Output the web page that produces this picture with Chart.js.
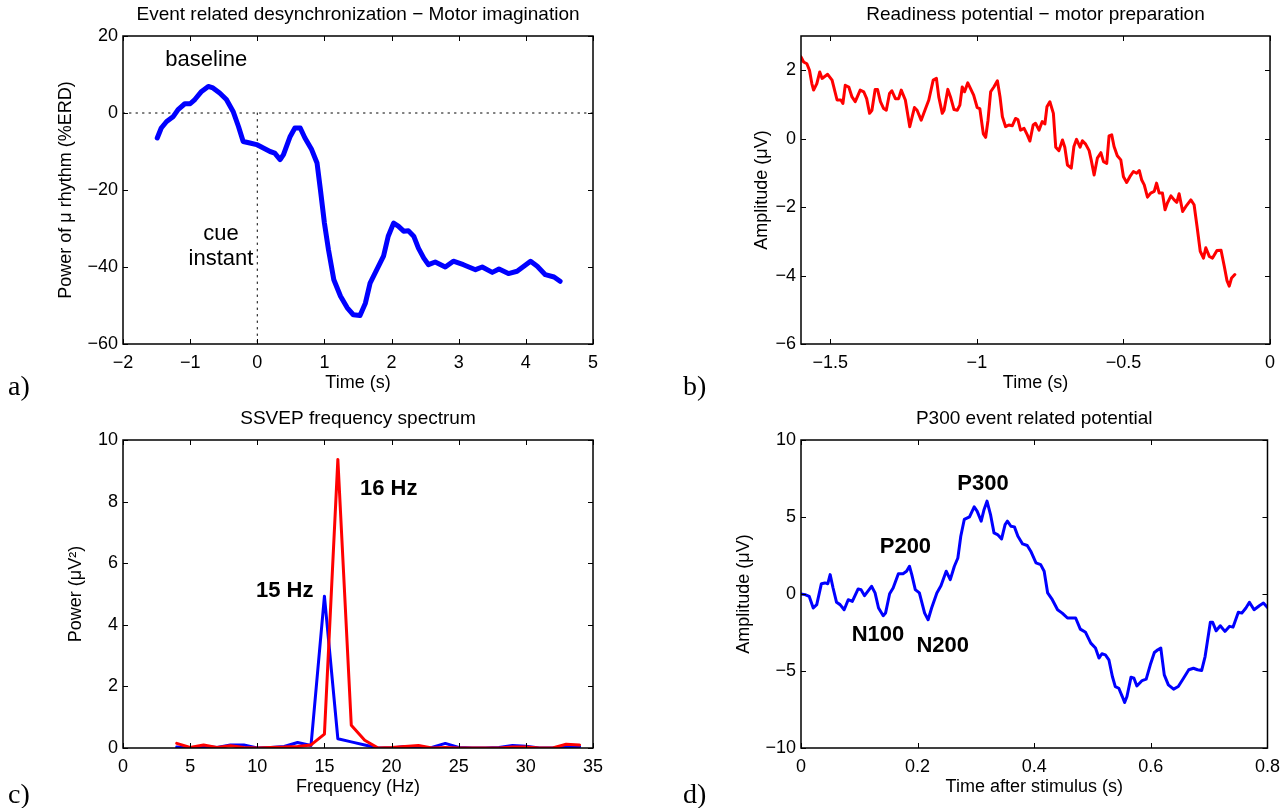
<!DOCTYPE html>
<html>
<head>
<meta charset="utf-8">
<title>BCI signal examples</title>
<script src="https://cdn.jsdelivr.net/npm/chart.js@4.4.1/dist/chart.umd.min.js"></script>
<style>
  html, body { margin: 0; padding: 0; background: #fff; }
  #wrap { position: relative; width: 1288px; height: 808px; overflow: hidden; }
  #wrap canvas { position: absolute; }
</style>
</head>
<body>
<div id="wrap">
  <canvas id="erd" width="644" height="404" style="left:0;top:0"></canvas>
  <canvas id="rp" width="644" height="404" style="left:644px;top:0"></canvas>
  <canvas id="ssvep" width="644" height="404" style="left:0;top:404px"></canvas>
  <canvas id="p300" width="644" height="404" style="left:644px;top:404px"></canvas>
</div>
<script>
// ---- a) ERD, mu rhythm power (%ERD) vs time (s)
const erdTime = [-1.49,-1.43,-1.35,-1.25,-1.18,-1.08,-1.00,-0.93,-0.83,-0.73,-0.66,-0.56,-0.46,-0.36,-0.28,-0.21,-0.11,-0.01,0.09,0.19,0.26,0.34,0.39,0.49,0.56,0.64,0.71,0.81,0.89,0.94,1.00,1.06,1.14,1.24,1.34,1.43,1.53,1.61,1.68,1.78,1.88,1.95,2.03,2.10,2.18,2.25,2.33,2.40,2.48,2.55,2.65,2.80,2.92,3.07,3.25,3.35,3.50,3.60,3.74,3.87,3.97,4.07,4.17,4.29,4.42,4.51];
const erdPower = [-6.5,-3.9,-2.2,-0.9,0.9,2.4,2.4,3.5,5.6,6.9,6.5,5.2,3.5,0.4,-3.5,-7.4,-7.8,-8.2,-9.1,-10.0,-10.4,-12.1,-10.8,-6.1,-3.9,-3.9,-6.5,-9.5,-13.0,-19.9,-28.6,-35.5,-43.3,-47.6,-50.6,-52.4,-52.6,-49.4,-44.2,-40.7,-37.2,-32.0,-28.6,-29.4,-30.7,-30.6,-32.0,-35.1,-37.7,-39.4,-38.7,-40.0,-38.5,-39.4,-40.7,-40.0,-41.4,-40.5,-41.7,-41.1,-39.8,-38.5,-39.8,-42.0,-42.6,-43.7];
const erdXTicks = [-2, -1, 0, 1, 2, 3, 4, 5];
const erdYTicks = [-60, -40, -20, 0, 20];

// ---- b) readiness potential (uV) vs time (s)
const rpTime = [-1.600,-1.591,-1.580,-1.571,-1.563,-1.557,-1.546,-1.536,-1.528,-1.509,-1.494,-1.477,-1.464,-1.457,-1.449,-1.437,-1.426,-1.415,-1.398,-1.386,-1.376,-1.366,-1.358,-1.347,-1.339,-1.329,-1.318,-1.309,-1.298,-1.290,-1.278,-1.267,-1.258,-1.244,-1.229,-1.213,-1.204,-1.190,-1.175,-1.164,-1.149,-1.138,-1.130,-1.118,-1.112,-1.099,-1.090,-1.078,-1.067,-1.058,-1.050,-1.042,-1.031,-1.022,-1.011,-0.999,-0.990,-0.978,-0.970,-0.962,-0.953,-0.942,-0.930,-0.921,-0.913,-0.902,-0.891,-0.879,-0.868,-0.860,-0.851,-0.839,-0.828,-0.819,-0.808,-0.800,-0.788,-0.777,-0.768,-0.761,-0.751,-0.739,-0.731,-0.720,-0.708,-0.700,-0.691,-0.678,-0.669,-0.660,-0.648,-0.640,-0.629,-0.617,-0.610,-0.600,-0.589,-0.577,-0.568,-0.557,-0.549,-0.540,-0.532,-0.521,-0.509,-0.500,-0.489,-0.478,-0.466,-0.455,-0.446,-0.438,-0.429,-0.418,-0.407,-0.395,-0.387,-0.378,-0.367,-0.358,-0.350,-0.338,-0.327,-0.318,-0.310,-0.298,-0.287,-0.270,-0.259,-0.249,-0.238,-0.227,-0.219,-0.207,-0.196,-0.181,-0.167,-0.156,-0.147,-0.139,-0.131,-0.120];
const rpAmp = [2.39,2.24,2.19,2.0,1.61,1.42,1.61,1.95,1.76,1.88,1.71,1.13,1.13,1.03,1.56,1.51,1.22,1.08,1.42,1.37,1.17,0.74,0.83,1.44,1.44,1.08,0.88,0.83,1.32,1.40,1.17,1.17,1.42,1.13,0.35,0.91,0.83,0.54,0.88,1.13,1.71,1.76,1.22,0.74,0.83,1.44,1.22,0.85,0.83,0.98,1.51,1.37,1.63,1.47,1.27,0.91,0.88,0.14,0.04,0.54,1.37,1.51,1.69,1.22,0.64,0.35,0.40,0.38,0.59,0.56,0.25,0.30,0.11,-0.07,0.40,0.45,0.25,0.50,0.43,0.93,1.08,0.74,-0.25,-0.35,-0.04,-0.25,-0.77,-0.86,-0.23,-0.02,-0.25,-0.06,-0.16,-0.35,-0.62,-1.06,-0.57,-0.41,-0.67,-0.72,0.08,0.11,-0.23,-0.50,-0.62,-1.11,-1.28,-1.11,-0.96,-1.01,-0.93,-1.20,-1.35,-1.71,-1.59,-1.54,-1.30,-1.59,-1.59,-2.08,-1.88,-1.67,-1.79,-1.86,-1.61,-2.13,-1.98,-1.79,-1.93,-2.56,-3.29,-3.49,-3.19,-3.44,-3.49,-3.27,-3.26,-3.73,-4.14,-4.31,-4.07,-3.97];
const rpXTicks = [-1.5, -1, -0.5, 0];
const rpYTicks = [-6, -4, -2, 0, 2];

// ---- c) SSVEP spectrum, power (uV^2) per frequency bin (Hz)
const ssvepFreq = [4,5,6,7,8,9,10,11,12,13,14,15,16,17,18,19,20,21,22,23,24,25,26,27,28,29,30,31,32,33,34];
const ssvep15Hz = [0.03,0.0,0.05,0.02,0.1,0.1,0.0,0.02,0.05,0.18,0.08,4.93,0.3,0.2,0.1,0.0,0.0,0.05,0.0,0.02,0.15,0.02,0.0,0.0,0.02,0.08,0.06,0.0,0.0,0.05,0.05];
const ssvep16Hz = [0.15,0.02,0.1,0.02,0.07,0.02,0.0,0.02,0.03,0.05,0.1,0.45,9.37,0.74,0.25,0.0,0.02,0.05,0.08,0.0,0.02,0.0,0.0,0.0,0.0,0.03,0.03,0.0,0.0,0.12,0.1];
const ssvepXTicks = [0, 5, 10, 15, 20, 25, 30, 35];
const ssvepYTicks = [0, 2, 4, 6, 8, 10];

// ---- d) P300 ERP, amplitude (uV) vs time after stimulus (s)
const p300Time = [0,0.007,0.014,0.021,0.027,0.035,0.041,0.046,0.050,0.055,0.061,0.067,0.074,0.081,0.088,0.098,0.103,0.109,0.121,0.127,0.133,0.141,0.145,0.152,0.158,0.167,0.175,0.181,0.186,0.190,0.196,0.203,0.212,0.218,0.224,0.233,0.240,0.249,0.256,0.263,0.269,0.274,0.280,0.289,0.297,0.302,0.309,0.314,0.319,0.325,0.331,0.337,0.344,0.350,0.354,0.360,0.366,0.372,0.380,0.388,0.394,0.403,0.411,0.417,0.423,0.431,0.440,0.448,0.457,0.465,0.471,0.479,0.488,0.497,0.505,0.511,0.516,0.522,0.528,0.534,0.539,0.545,0.551,0.555,0.559,0.566,0.571,0.576,0.585,0.592,0.599,0.606,0.612,0.617,0.623,0.630,0.639,0.647,0.656,0.665,0.673,0.680,0.687,0.693,0.702,0.706,0.712,0.719,0.727,0.735,0.741,0.750,0.756,0.763,0.769,0.777,0.786,0.793,0.800];
const p300Amp = [0,-0.04,-0.15,-0.91,-0.69,0.67,0.72,0.67,1.26,0.39,-0.54,-0.69,-1.02,-0.37,-0.48,0.33,0.28,-0.11,0.50,0.07,-0.91,-1.41,-1.24,0.02,0.39,1.32,1.32,1.48,1.80,1.26,0.28,0.07,-1.24,-1.67,-0.91,0.07,0.54,1.48,0.93,1.80,2.34,3.75,4.84,5.01,5.66,5.38,4.73,5.49,6.03,5.16,3.97,3.86,3.58,4.51,4.73,4.40,4.36,3.75,3.25,3.15,2.78,2.02,1.91,1.48,0.07,-0.37,-1.02,-1.24,-1.56,-1.56,-1.56,-2.28,-2.49,-3.19,-3.51,-4.16,-3.88,-3.95,-4.27,-5.36,-6.01,-6.12,-6.66,-7.05,-6.66,-5.40,-5.47,-5.97,-5.62,-5.53,-4.60,-3.80,-3.62,-3.51,-5.25,-5.90,-6.18,-6.01,-5.47,-4.92,-4.82,-4.92,-4.97,-4.06,-1.84,-1.84,-2.39,-2.06,-2.43,-2.10,-2.15,-1.19,-1.24,-0.91,-0.54,-1.02,-0.76,-0.59,-0.87];
const p300XTicks = [0, 0.2, 0.4, 0.6, 0.8];
const p300YTicks = [-10, -5, 0, 5, 10];

Chart.defaults.font.family = "'Liberation Sans', Arial, Helvetica, sans-serif";
Chart.defaults.color = '#000';

const SANS = "'Liberation Sans', Arial, sans-serif";
const zip = (xs, ys) => xs.map((x, i) => ({ x, y: ys[i] }));
const minus = v => String(v).replace('-', '\u2212');

// MATLAB-like box: frame, inward ticks on all sides, title, panel letter, text notes
const matlabBox = {
  id: 'matlabBox',
  afterDraw(chart, _args, o) {
    const { ctx, chartArea: a, scales: { x, y } } = chart;
    ctx.save();
    ctx.strokeStyle = '#000';
    ctx.lineWidth = 1;
    ctx.beginPath();
    x.ticks.forEach(t => {
      const px = Math.round(x.getPixelForValue(t.value)) + 0.5;
      ctx.moveTo(px, a.bottom); ctx.lineTo(px, a.bottom - 5);
      ctx.moveTo(px, a.top); ctx.lineTo(px, a.top + 5);
    });
    y.ticks.forEach(t => {
      const py = Math.round(y.getPixelForValue(t.value)) + 0.5;
      ctx.moveTo(a.left, py); ctx.lineTo(a.left + 5, py);
      ctx.moveTo(a.right, py); ctx.lineTo(a.right - 5, py);
    });
    ctx.stroke();
    ctx.lineWidth = 1.5;
    ctx.strokeRect(a.left, a.top, a.right - a.left, a.bottom - a.top);

    ctx.fillStyle = '#000';
    ctx.font = '19px ' + SANS;
    ctx.textAlign = 'center';
    ctx.textBaseline = 'middle';
    ctx.fillText(o.title, (a.left + a.right) / 2, 15);

    ctx.font = "28px 'Liberation Serif', 'Times New Roman', serif";
    ctx.textAlign = 'left';
    ctx.textBaseline = 'alphabetic';
    ctx.fillText(o.letter, o.letterX, o.letterY);

    (o.notes || []).forEach(n => {
      ctx.font = (n.bold ? 'bold ' : '') + '22px ' + SANS;
      ctx.textAlign = n.align || 'left';
      ctx.fillText(n.text, x.getPixelForValue(n.x), y.getPixelForValue(n.y));
    });
    ctx.restore();
  }
};

function axis(min, max, tickValues, label, opts) {
  const horizontal = opts.horizontal;
  return {
    type: 'linear',
    min, max,
    grid: { display: false, drawTicks: false },
    border: { display: false },
    afterBuildTicks: s => { s.ticks = tickValues.map(v => ({ value: v })); },
    afterFit: s => { if (horizontal) s.height = 60; else s.width = opts.size; },
    ticks: {
      color: '#000', font: { size: 18 }, padding: horizontal ? 8 : 5,
      maxRotation: 0, autoSkip: false, callback: minus
    },
    title: {
      display: true, text: label, color: '#000', font: { size: 18 },
      padding: horizontal ? { top: 0, bottom: 10 } : { top: opts.titlePad, bottom: 0 }
    }
  };
}

function panel(id, datasets, scales, rightPad, box) {
  return new Chart(document.getElementById(id), {
    type: 'line',
    data: { datasets },
    options: {
      responsive: false,
      animation: false,
      devicePixelRatio: 1,
      layout: { padding: { top: 36, right: rightPad, bottom: 0, left: 0 }, autoPadding: false },
      elements: { point: { radius: 0 }, line: { tension: 0, borderJoinStyle: 'round', borderCapStyle: 'round' } },
      plugins: { legend: { display: false }, tooltip: { enabled: false }, matlabBox: box },
      scales
    },
    plugins: [matlabBox]
  });
}

// a)
panel('erd', [
  { data: zip(erdTime, erdPower), borderColor: '#0000ff', borderWidth: 5 },
  { data: [{ x: -2, y: 0 }, { x: 5, y: 0 }], borderColor: '#000', borderWidth: 1, borderDash: [1.5, 5] },
  { data: [{ x: 0, y: 0 }, { x: 0, y: -60 }], borderColor: '#000', borderWidth: 1, borderDash: [1.5, 5] }
], {
  x: axis(-2, 5, erdXTicks, 'Time (s)', { horizontal: true }),
  y: axis(-60, 20, erdYTicks, 'Power of \u03bc rhythm (%ERD)', { size: 123, titlePad: 55 })
}, 51, {
  title: 'Event related desynchronization \u2212 Motor imagination',
  letter: 'a)', letterX: 8, letterY: 395,
  notes: [
    { text: 'baseline', x: -1.37, y: 12.2 },
    { text: 'cue', x: -0.54, y: -33.0, align: 'center' },
    { text: 'instant', x: -0.54, y: -39.5, align: 'center' }
  ]
});

// b)
panel('rp', [
  { data: zip(rpTime, rpAmp), borderColor: '#ff0000', borderWidth: 3 }
], {
  x: axis(-1.6, 0, rpXTicks, 'Time (s)', { horizontal: true }),
  y: axis(-6, 3, rpYTicks, 'Amplitude (\u03bcV)', { size: 157, titlePad: 107 })
}, 18, {
  title: 'Readiness potential \u2212 motor preparation',
  letter: 'b)', letterX: 39, letterY: 395
});

// c)
panel('ssvep', [
  { data: zip(ssvepFreq, ssvep16Hz), borderColor: '#ff0000', borderWidth: 3 },
  { data: zip(ssvepFreq, ssvep15Hz), borderColor: '#0000ff', borderWidth: 3 }
], {
  x: axis(0, 35, ssvepXTicks, 'Frequency (Hz)', { horizontal: true }),
  y: axis(0, 10, ssvepYTicks, 'Power (\u03bcV\u00b2)', { size: 123, titlePad: 65 })
}, 51, {
  title: 'SSVEP frequency spectrum',
  letter: 'c)', letterX: 8, letterY: 399,
  notes: [
    { text: '15 Hz', x: 9.9, y: 4.9, bold: true },
    { text: '16 Hz', x: 17.65, y: 8.21, bold: true }
  ]
});

// d)
panel('p300', [
  { data: zip(p300Time, p300Amp), borderColor: '#0000ff', borderWidth: 3 }
], {
  x: axis(0, 0.8, p300XTicks, 'Time after stimulus (s)', { horizontal: true }),
  y: axis(-10, 10, p300YTicks, 'Amplitude (\u03bcV)', { size: 157, titlePad: 89 })
}, 18, {
  title: 'P300 event related potential',
  letter: 'd)', letterX: 39, letterY: 399,
  notes: [
    { text: 'P300', x: 0.268, y: 6.75, bold: true },
    { text: 'P200', x: 0.135, y: 2.66, bold: true },
    { text: 'N100', x: 0.087, y: -3.05, bold: true },
    { text: 'N200', x: 0.198, y: -3.77, bold: true }
  ]
});
</script>
</body>
</html>
